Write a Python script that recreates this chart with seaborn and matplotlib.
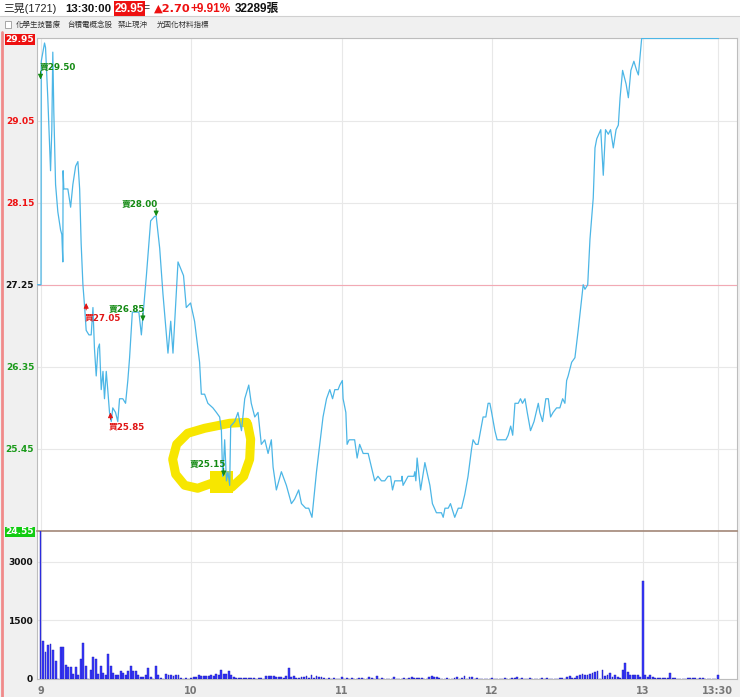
import numpy as np
import pandas as pd
import matplotlib
matplotlib.use("Agg")
import matplotlib.pyplot as plt
import seaborn as sns
from matplotlib.lines import Line2D
from matplotlib.patches import Rectangle, PathPatch, Polygon
from matplotlib.path import Path
from matplotlib.transforms import Affine2D, ScaledTranslation

sns.set_theme(style="white")
plt.rcParams['font.family'] = ['DejaVu Sans', 'Noto Sans CJK TC']

# ---------------------------------------------------------------
# DATA (minutes after 09:00)
stock_name = "三晃(1721)"
quote_time = "13:30:00"
last_price = "29.95"
change = "▲2.70"
change_pct = "+9.91%"
total_vol = "32289張"
tags = ["化學生技醫療", "台積電概念股", "禁止現沖", "光固化材料指標"]

price_min = [-1.4, 0.2, 0.3, 1.6, 2.0, 2.9, 3.6, 4.0, 4.5, 4.9, 5.3, 6.0, 6.9, 8.0, 8.5, 8.9, 9.0, 9.3,
             10.9, 12.0, 12.9, 14.0, 14.9, 15.6, 16.2, 16.9, 17.6, 18.2, 19.3, 20.2, 20.9, 21.5, 22.2,
             22.9, 23.5, 24.2, 24.9, 25.5, 26.2, 26.8, 27.5, 28.2, 28.8, 29.9, 30.8, 31.5, 32.8, 33.9,
             34.8, 35.5, 36.6, 37.9, 39.2, 40.2, 40.8, 42.2, 43.2, 43.9, 45.5, 46.1, 47.5, 48.8, 50.8,
             51.9, 52.8, 54.8, 57.0, 58.1, 59.8, 61.4, 63.4, 64.1, 65.4, 66.7, 68.7, 70.1, 71.4, 72.1,
             72.5, 72.7, 73.4, 74.1, 74.7, 75.4, 75.8, 77.4, 78.7, 80.1, 81.4, 83.0, 84.0, 85.4, 86.7,
             88.0, 89.4, 90.7, 92.0, 92.7, 94.0, 96.0, 98.0, 100.0, 101.3, 102.9, 104.0, 105.7, 106.9,
             108.2, 110.0, 111.3, 112.6, 114.0, 115.3, 116.4, 117.3, 118.6, 119.3, 120.3, 120.6, 121.7,
             122.2, 123.0, 123.9, 125.2, 126.2, 127.2, 128.6, 130.6, 131.9, 133.2, 134.5, 135.9, 137.2,
             138.5, 139.5, 140.3, 141.2, 143.9, 144.1, 144.5, 146.5, 147.9, 148.8, 149.2, 149.6, 150.1,
             150.9, 151.5, 153.2, 155.2, 156.2, 157.8, 159.2, 159.8, 160.5, 161.2, 162.5, 163.4, 165.1,
             166.5, 167.8, 169.1, 170.4, 171.8, 172.4, 173.5, 174.4, 175.4, 176.4, 177.5, 178.4, 179.1,
             179.8, 181.1, 182.0, 183.1, 184.4, 185.5, 186.4, 187.4, 188.2, 189.1, 190.4, 191.3, 192.1,
             193.1, 194.0, 195.3, 196.7, 198.4, 199.0, 200.1, 201.4, 202.4, 203.3, 204.3, 205.7, 207.0,
             208.1, 209.0, 209.7, 210.3, 211.7, 213.0, 214.3, 215.7, 216.3, 217.0, 218.1, 219.0, 219.7,
             220.3, 221.0, 221.7, 223.3, 224.3, 225.2, 226.3, 227.2, 228.3, 229.4, 230.3, 231.0, 232.0,
             233.4, 234.3, 235.3, 236.5, 237.6, 238.3, 239.6, 270.2]
price_val = [27.25, 27.25, 29.70, 29.90, 29.85, 29.30, 28.80, 28.50, 28.95, 29.80, 29.15, 28.35, 28.05, 27.85,
             27.80, 27.50, 28.50, 28.30, 28.30, 28.10, 28.35, 28.55, 28.60, 28.30, 27.70, 27.25, 27.00,
             26.75, 26.70, 26.70, 27.00, 26.55, 26.25, 26.55, 26.60, 26.10, 26.30, 26.00, 26.30, 26.10,
             25.85, 25.75, 25.90, 25.85, 25.75, 26.00, 26.00, 25.95, 26.20, 26.45, 26.95, 26.95, 26.95,
             26.70, 26.90, 27.35, 27.70, 27.95, 28.00, 28.00, 27.65, 27.15, 26.50, 26.85, 26.50, 27.50,
             27.35, 27.00, 27.05, 26.85, 26.40, 26.05, 26.05, 25.95, 25.90, 25.85, 25.80, 25.65, 25.25,
             25.15, 25.55, 25.10, 25.20, 25.05, 25.70, 25.75, 25.85, 25.65, 26.00, 26.15, 25.95, 25.80,
             25.85, 25.50, 25.55, 25.40, 25.55, 25.25, 25.00, 25.20, 25.05, 24.85, 24.90, 25.00, 24.85,
             24.80, 24.80, 24.70, 25.20, 25.50, 25.80, 26.00, 26.10, 26.00, 26.10, 26.10, 26.15, 26.20,
             26.00, 25.85, 25.50, 25.55, 25.55, 25.55, 25.35, 25.50, 25.40, 25.40, 25.25, 25.10, 25.15,
             25.10, 25.10, 25.15, 25.15, 25.00, 25.10, 25.10, 25.15, 25.05, 25.15, 25.15, 25.15, 25.20,
             25.10, 25.35, 25.15, 25.00, 25.30, 25.05, 24.85, 24.75, 24.75, 24.75, 24.70, 24.80, 24.80,
             24.85, 24.70, 24.80, 24.80, 24.95, 25.15, 25.45, 25.55, 25.50, 25.50, 25.65, 25.80, 25.80,
             25.95, 25.95, 25.85, 25.65, 25.55, 25.55, 25.55, 25.55, 25.60, 25.70, 25.60, 25.95, 25.95,
             26.00, 25.95, 26.00, 25.85, 25.65, 25.75, 25.95, 25.85, 25.75, 26.00, 26.00, 25.80, 25.85,
             25.90, 25.90, 26.00, 25.95, 26.20, 26.25, 26.40, 26.45, 26.75, 27.10, 27.25, 27.20, 27.25,
             27.75, 28.00, 28.20, 28.75, 28.85, 28.95, 28.45, 28.95, 28.90, 28.95, 28.75, 28.95, 29.00,
             29.30, 29.60, 29.45, 29.30, 29.60, 29.70, 29.60, 29.55, 29.95, 29.95]

volume = [3950, 970, 690, 860, 900, 750, 450, 0, 820, 820,
          370, 300, 300, 140, 300, 110, 500, 910, 330, 0,
          240, 560, 510, 140, 330, 150, 95, 630, 340, 150,
          110, 110, 200, 150, 90, 200, 320, 210, 210, 90,
          50, 50, 90, 270, 50, 0, 340, 110, 20, 0,
          140, 110, 110, 70, 110, 90, 30, 10, 35, 10,
          20, 40, 60, 110, 80, 70, 70, 80, 110, 80,
          140, 110, 240, 140, 140, 210, 110, 50, 30, 20,
          30, 30, 20, 30, 20, 30, 10, 30, 20, 0,
          80, 70, 80, 70, 50, 50, 50, 30, 80, 290,
          50, 70, 30, 20, 50, 40, 70, 30, 110, 20,
          70, 50, 40, 30, 0, 20, 0, 20, 0, 0,
          50, 0, 20, 0, 30, 0, 0, 20, 30, 0,
          0, 50, 20, 0, 70, 0, 20, 0, 0, 0,
          0, 40, 0, 0, 0, 20, 0, 30, 40, 20,
          30, 20, 30, 0, 0, 40, 70, 50, 40, 20,
          0, 0, 20, 0, 0, 30, 40, 0, 20, 70,
          0, 40, 40, 10, 20, 0, 0, 10, 0, 0,
          20, 0, 0, 10, 0, 20, 0, 0, 20, 30,
          40, 0, 20, 0, 0, 30, 0, 0, 0, 0,
          20, 0, 20, 0, 0, 0, 0, 20, 30, 0,
          50, 70, 30, 20, 70, 110, 130, 90, 110, 120,
          160, 180, 200, 0, 240, 70, 110, 160, 50, 110,
          50, 30, 230, 410, 180, 90, 90, 90, 90, 50,
          2500, 110, 50, 110, 50, 35, 30, 30, 30, 20,
          35, 160, 20, 20, 10, 0, 0, 0, 30, 30,
          30, 20, 0, 30, 20, 0, 0, 0, 0, 0,
          90]

trade_min = [0.0, 18.2, 27.9, 40.8, 46.1, 73.0]
trade_price = [29.50, 27.05, 25.85, 26.85, 28.00, 25.15]
trade_side = ["賣", "買", "買", "賣", "賣", "賣"]

price_ticks = [29.95, 29.05, 28.15, 27.25, 26.35, 25.45, 24.55]
ref_price = 27.25
vol_ticks = [0, 1500, 3000]
time_ticks = [0, 60, 120, 180, 240, 270]
time_labels = ["9", "10", "11", "12", "13", "13:30"]

# ---------------------------------------------------------------
W, H = 740, 697
fig = plt.figure(figsize=(W / 100, H / 100), dpi=100, facecolor="#f0f0f0")


def fbox(x0, y0, x1, y1):
    # pixel box (top-left origin) -> figure fraction rect
    return [x0 / W, 1 - y1 / H, (x1 - x0) / W, (y1 - y0) / H]


# header strip
fig.add_artist(Rectangle((0, 1 - 16 / H), 1, 16 / H, transform=fig.transFigure,
                         facecolor="white", edgecolor="none"))
fig.add_artist(Line2D([0, 1], [1 - 16 / H] * 2, transform=fig.transFigure, color="#d0d0d0", lw=0.8))
fig.add_artist(Line2D([1.5 / W] * 2, [0, 1 - 32 / H], transform=fig.transFigure, color="#f08a8a", lw=2))

hfont = ["Liberation Sans", "Noto Sans CJK TC"]
hy = 1 - 8.5 / H
fig.text(3 / W, hy, stock_name, fontsize=7.8, va="center", color="#222222", family=hfont)
fig.text(65 / W, hy, quote_time, fontsize=8.2, va="center", fontweight="bold", color="#111111", family=hfont)
fig.text(115 / W, hy, last_price, fontsize=8.5, va="center", fontweight="bold", color="white", family=hfont,
         bbox=dict(facecolor="#ee1111", edgecolor="none", pad=0.8))
fig.text(144 / W, hy, "=", fontsize=7.5, va="center", color="#222222", family=hfont)
fig.text(154 / W, hy, change, fontsize=8.2, va="center", fontweight="bold", color="#ee1111",
         family=["DejaVu Sans"])
fig.text(191 / W, hy, change_pct, fontsize=8.5, va="center", fontweight="bold", color="#ee1111", family=hfont)
fig.text(235 / W, hy, total_vol, fontsize=8.5, va="center", fontweight="bold", color="#111111", family=hfont)

ty = 1 - 24 / H
fig.add_artist(Rectangle((5 / W, 1 - 27.5 / H), 6 / W, 6 / H, transform=fig.transFigure,
                         facecolor="white", edgecolor="#999999", lw=0.6))
tag_x = [16, 67, 118, 157]
for x, t in zip(tag_x, tags):
    fig.text(x / W, ty, t, fontsize=5.4, va="center", color="#333333")

# ---------------------------------------------------------------
# PRICE PANEL
ax = fig.add_axes(fbox(37, 38, 737, 531))
ax.set_facecolor("white")
df = pd.DataFrame({"t": price_min, "p": price_val})
sns.lineplot(data=df, x="t", y="p", ax=ax, sort=False, estimator=None,
             color="#4cb6e6", lw=0.9, zorder=5)
ax.axhline(ref_price, color="#f2a9b4", lw=0.8, zorder=1)

ax.set_xlim(-1.4, 277.6)
ax.set_ylim(24.55, 29.955)
ax.set_xticks(time_ticks)
ax.set_yticks(price_ticks)
ax.grid(True, color="#e8e8e8", lw=0.8, zorder=0)
ax.set_xlabel("")
ax.set_ylabel("")
ax.tick_params(axis="x", labelbottom=False, length=0)
ax.tick_params(axis="y", length=0, pad=2)
ax.set_yticklabels([f"{v:.2f}" for v in price_ticks])
for lab, v in zip(ax.get_yticklabels(), price_ticks):
    lab.set_fontsize(6.5)
    lab.set_fontweight("bold")
    if v == price_ticks[0]:
        lab.set_color("white")
        lab.set_bbox(dict(facecolor="#ee1111", edgecolor="none", pad=0.6))
    elif v == price_ticks[-1]:
        lab.set_color("white")
        lab.set_bbox(dict(facecolor="#11cc11", edgecolor="none", pad=0.6))
    elif v > ref_price:
        lab.set_color("#ee1111")
    elif v == ref_price:
        lab.set_color("#111111")
    else:
        lab.set_color("#1a9a1a")
for s in ax.spines.values():
    s.set_color("#bdbdbd")
    s.set_linewidth(0.8)

# trade markers
afont = ["DejaVu Sans", "Noto Sans CJK TC"]
astyle = "-|>,head_length=0.25,head_width=0.12"
for m, pr, side in zip(trade_min, trade_price, trade_side):
    label = f"{side}{pr:.2f}"
    if side == "賣":
        col = "#138a13"
        ax.annotate("", xy=(m, pr), xytext=(0, 8), textcoords="offset pixels",
                    arrowprops=dict(arrowstyle=astyle, color=col, lw=0.7, shrinkA=0, shrinkB=0),
                    zorder=7)
        ha, dx = ("left", -1) if m < 10 else ("right", 2)
        ax.annotate(label, xy=(m, pr), xytext=(dx, 13), textcoords="offset pixels",
                    ha=ha, va="center", fontsize=6.3, fontweight="bold", color=col,
                    family=afont, zorder=7)
    else:
        col = "#e01515"
        ax.annotate("", xy=(m, pr), xytext=(0, -7), textcoords="offset pixels",
                    arrowprops=dict(arrowstyle=astyle, color=col, lw=0.7, shrinkA=0, shrinkB=0),
                    zorder=7)
        ax.annotate(label, xy=(m, pr), xytext=(-1.5, -15), textcoords="offset pixels",
                    ha="left", va="center", fontsize=6.3, fontweight="bold", color=col,
                    family=afont, zorder=7)

# yellow hand-drawn highlight around the last sell marker (pixel offsets, y down)
loop_px = [(23, -54), (6, -53), (-19, -48), (-36, -43), (-47, -32), (-51, -17), (-48, -2),
           (-39, 9), (-26, 12), (-12, 7), (8, 11), (20, 0), (26, -17), (27, -37), (24, -52)]
block_px = [(-14, -5), (9, -5), (9, 17), (-14, 17)]
anchor = ScaledTranslation(trade_min[-1], trade_price[-1], ax.transData)
tr = Affine2D().scale(1, -1) + anchor
ax.add_patch(PathPatch(Path(loop_px), transform=tr, facecolor="none", edgecolor="#f7e600",
                       lw=6.5, capstyle="round", joinstyle="round", zorder=3, clip_on=False))
ax.add_patch(Polygon(block_px, closed=True, transform=tr, facecolor="#f7e600",
                     edgecolor="none", zorder=3, clip_on=False))

# ---------------------------------------------------------------
# VOLUME PANEL
axv = fig.add_axes(fbox(37, 531, 737, 679))
axv.set_facecolor("white")
dfv = pd.DataFrame({"t": np.arange(len(volume)), "v": volume})
sns.barplot(data=dfv, x="t", y="v", ax=axv, native_scale=True, color="#3a3aff",
            saturation=1, edgecolor="#1818b0", linewidth=0.3, errorbar=None, width=0.75, zorder=3)
axv.set_xlim(-1.4, 277.6)
axv.set_ylim(0, 3780)
axv.set_yticks(vol_ticks)
axv.set_yticklabels([str(v) for v in vol_ticks])
axv.set_xticks(time_ticks)
axv.set_xticklabels(time_labels)
axv.grid(True, color="#e8e8e8", lw=0.8, zorder=0)
axv.set_xlabel("")
axv.set_ylabel("")
axv.tick_params(axis="y", length=0, pad=3, labelsize=6.5, labelcolor="#111111")
axv.tick_params(axis="x", length=3, width=0.8, color="#888888", direction="out",
                pad=2, labelsize=7, labelcolor="#777777")
for lab in axv.get_xticklabels() + axv.get_yticklabels():
    lab.set_fontweight("bold")
for s in axv.spines.values():
    s.set_color("#bdbdbd")
    s.set_linewidth(0.8)
axv.spines["top"].set_color("#a38878")
axv.spines["top"].set_linewidth(1.2)

fig.savefig("out.png", dpi=100, facecolor=fig.get_facecolor())
